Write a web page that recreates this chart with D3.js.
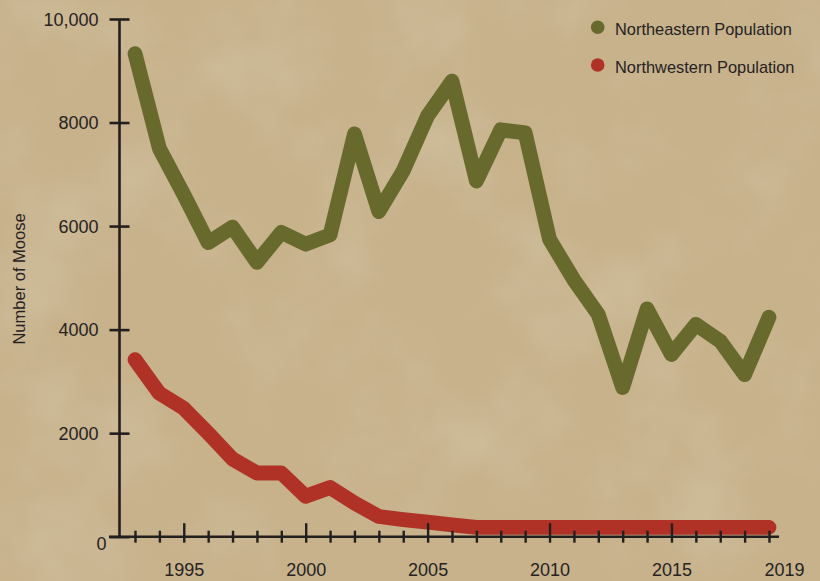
<!DOCTYPE html>
<html>
<head>
<meta charset="utf-8">
<script src="https://cdn.jsdelivr.net/npm/d3@7"></script>
<style>
  body { margin: 0; background: #c9b48e; }
  svg text { font-family: "Liberation Sans", Arial, sans-serif; fill: #26221f; }
</style>
</head>
<body>
<div id="chart"></div>
<script>
// moose counts
var years = [1993, 1994, 1995, 1996, 1997, 1998, 1999, 2000, 2001, 2002, 2003, 2004, 2005, 2006,
             2007, 2008, 2009, 2010, 2011, 2012, 2013, 2014, 2015, 2016, 2017, 2018, 2019];
var northeast = [9330, 7500, 6610, 5680, 5980, 5300, 5880, 5650, 5830, 7780, 6280, 7070, 8130, 8800,
                 6870, 7860, 7800, 5745, 4960, 4290, 2880, 4400, 3520, 4100, 3780, 3130, 4240];
var northwest = [3420, 2770, 2480, 2000, 1500, 1230, 1230, 780, 950, 650, 390, 330, 280, 230,
                 180, 180, 180, 180, 180, 180, 180, 180, 180, 180, 180, 180, 180];
var yTicks = [0, 2000, 4000, 6000, 8000, 10000];
var yTickLabels = ["0", "2000", "4000", "6000", "8000", "10,000"];
var xLabelYears = [1995, 2000, 2005, 2010, 2015, 2019];
var seriesNames = ["Northeastern Population", "Northwestern Population"];
var seriesColors = ["#676a2c", "#b03227"];

var width = 820, height = 581;
var axisX = 119.5, axisY = 536.7;

var svg = d3.select("#chart").append("svg")
    .attr("width", width)
    .attr("height", height);

// parchment-ish background
var defs = svg.append("defs");
var f = defs.append("filter").attr("id", "paper")
    .attr("x", 0).attr("y", 0).attr("width", "100%").attr("height", "100%");
f.append("feTurbulence")
    .attr("type", "fractalNoise")
    .attr("baseFrequency", "0.008")
    .attr("numOctaves", 4)
    .attr("seed", 7);
f.append("feColorMatrix")
    .attr("type", "matrix")
    .attr("values", "0 0 0 0 0.83  0 0 0 0 0.75  0 0 0 0 0.60  1.2 0 0 0 -0.55");

svg.append("rect").attr("width", width).attr("height", height).attr("fill", "#c7b28c");
svg.append("rect").attr("width", width).attr("height", height)
    .attr("filter", "url(#paper)").attr("opacity", 0.45);

var x = d3.scaleLinear().domain([1993, 2019]).range([135, 769]);
var y = d3.scaleLinear().domain([0, 10000]).range([axisY, 19]);

var line = d3.line()
    .x(function(d, i) { return x(years[i]); })
    .y(function(d) { return y(d); });

[northeast, northwest].forEach(function(s, k) {
    svg.append("path")
        .attr("d", line(s))
        .attr("fill", "none")
        .attr("stroke", seriesColors[k])
        .attr("stroke-width", 14.8)
        .attr("stroke-linejoin", "round")
        .attr("stroke-linecap", "round");
});

// y axis
var yAxis = svg.append("g")
    .attr("transform", "translate(" + axisX + ",0)")
    .call(d3.axisLeft(y)
        .tickValues(yTicks)
        .tickSize(10)
        .tickPadding(11)
        .tickFormat(function(d, i) { return yTickLabels[i]; }));

yAxis.select(".domain").remove();
yAxis.append("line")
    .attr("y1", y(10000)).attr("y2", axisY)
    .attr("stroke", "#231f1e").attr("stroke-width", 2.6);
yAxis.selectAll(".tick line")
    .attr("x1", 10)
    .attr("stroke", "#231f1e").attr("stroke-width", 2.6);
yAxis.selectAll(".tick text")
    .attr("font-size", 18)
    .attr("font-family", "Liberation Sans, Arial, sans-serif")
    .attr("fill", "#26221f")
    .attr("dy", "0.34em");
yAxis.selectAll(".tick").filter(function(d) { return d === 0; })
    .select("text").attr("transform", "translate(8,7)");

// x axis
var xAxis = svg.append("g")
    .attr("transform", "translate(0," + axisY + ")")
    .call(d3.axisBottom(x)
        .tickValues(years)
        .tickSizeOuter(0)
        .tickFormat(function(d) { return xLabelYears.indexOf(d) >= 0 ? String(d) : ""; }));

xAxis.select(".domain").remove();
xAxis.append("line")
    .attr("x1", axisX - 10.5).attr("x2", x(2019) + 10)
    .attr("stroke", "#231f1e").attr("stroke-width", 2.6);
xAxis.selectAll(".tick line")
    .attr("y1", function(d) { return d % 5 === 0 ? -13.5 : -6; })
    .attr("y2", 6)
    .attr("stroke", "#231f1e").attr("stroke-width", 2.4);
xAxis.selectAll(".tick text")
    .attr("font-size", 18)
    .attr("font-family", "Liberation Sans, Arial, sans-serif")
    .attr("fill", "#26221f")
    .attr("dy", null)
    .attr("y", 39)
    .attr("dx", function(d) { return d === 2019 ? 15 : 0; });

// y title
svg.append("text")
    .attr("transform", "translate(25,279) rotate(-90)")
    .attr("text-anchor", "middle")
    .attr("font-size", 16.5)
    .text("Number of Moose");

// legend
var legend = svg.append("g");
seriesNames.forEach(function(name, k) {
    var ly = 27.3 + k * 37.7;
    legend.append("circle")
        .attr("cx", 597.7).attr("cy", ly).attr("r", 6.8)
        .attr("fill", seriesColors[k]);
    legend.append("text")
        .attr("x", 615).attr("y", ly + 7.5)
        .attr("font-size", 16.4)
        .text(name);
});
</script>
</body>
</html>
